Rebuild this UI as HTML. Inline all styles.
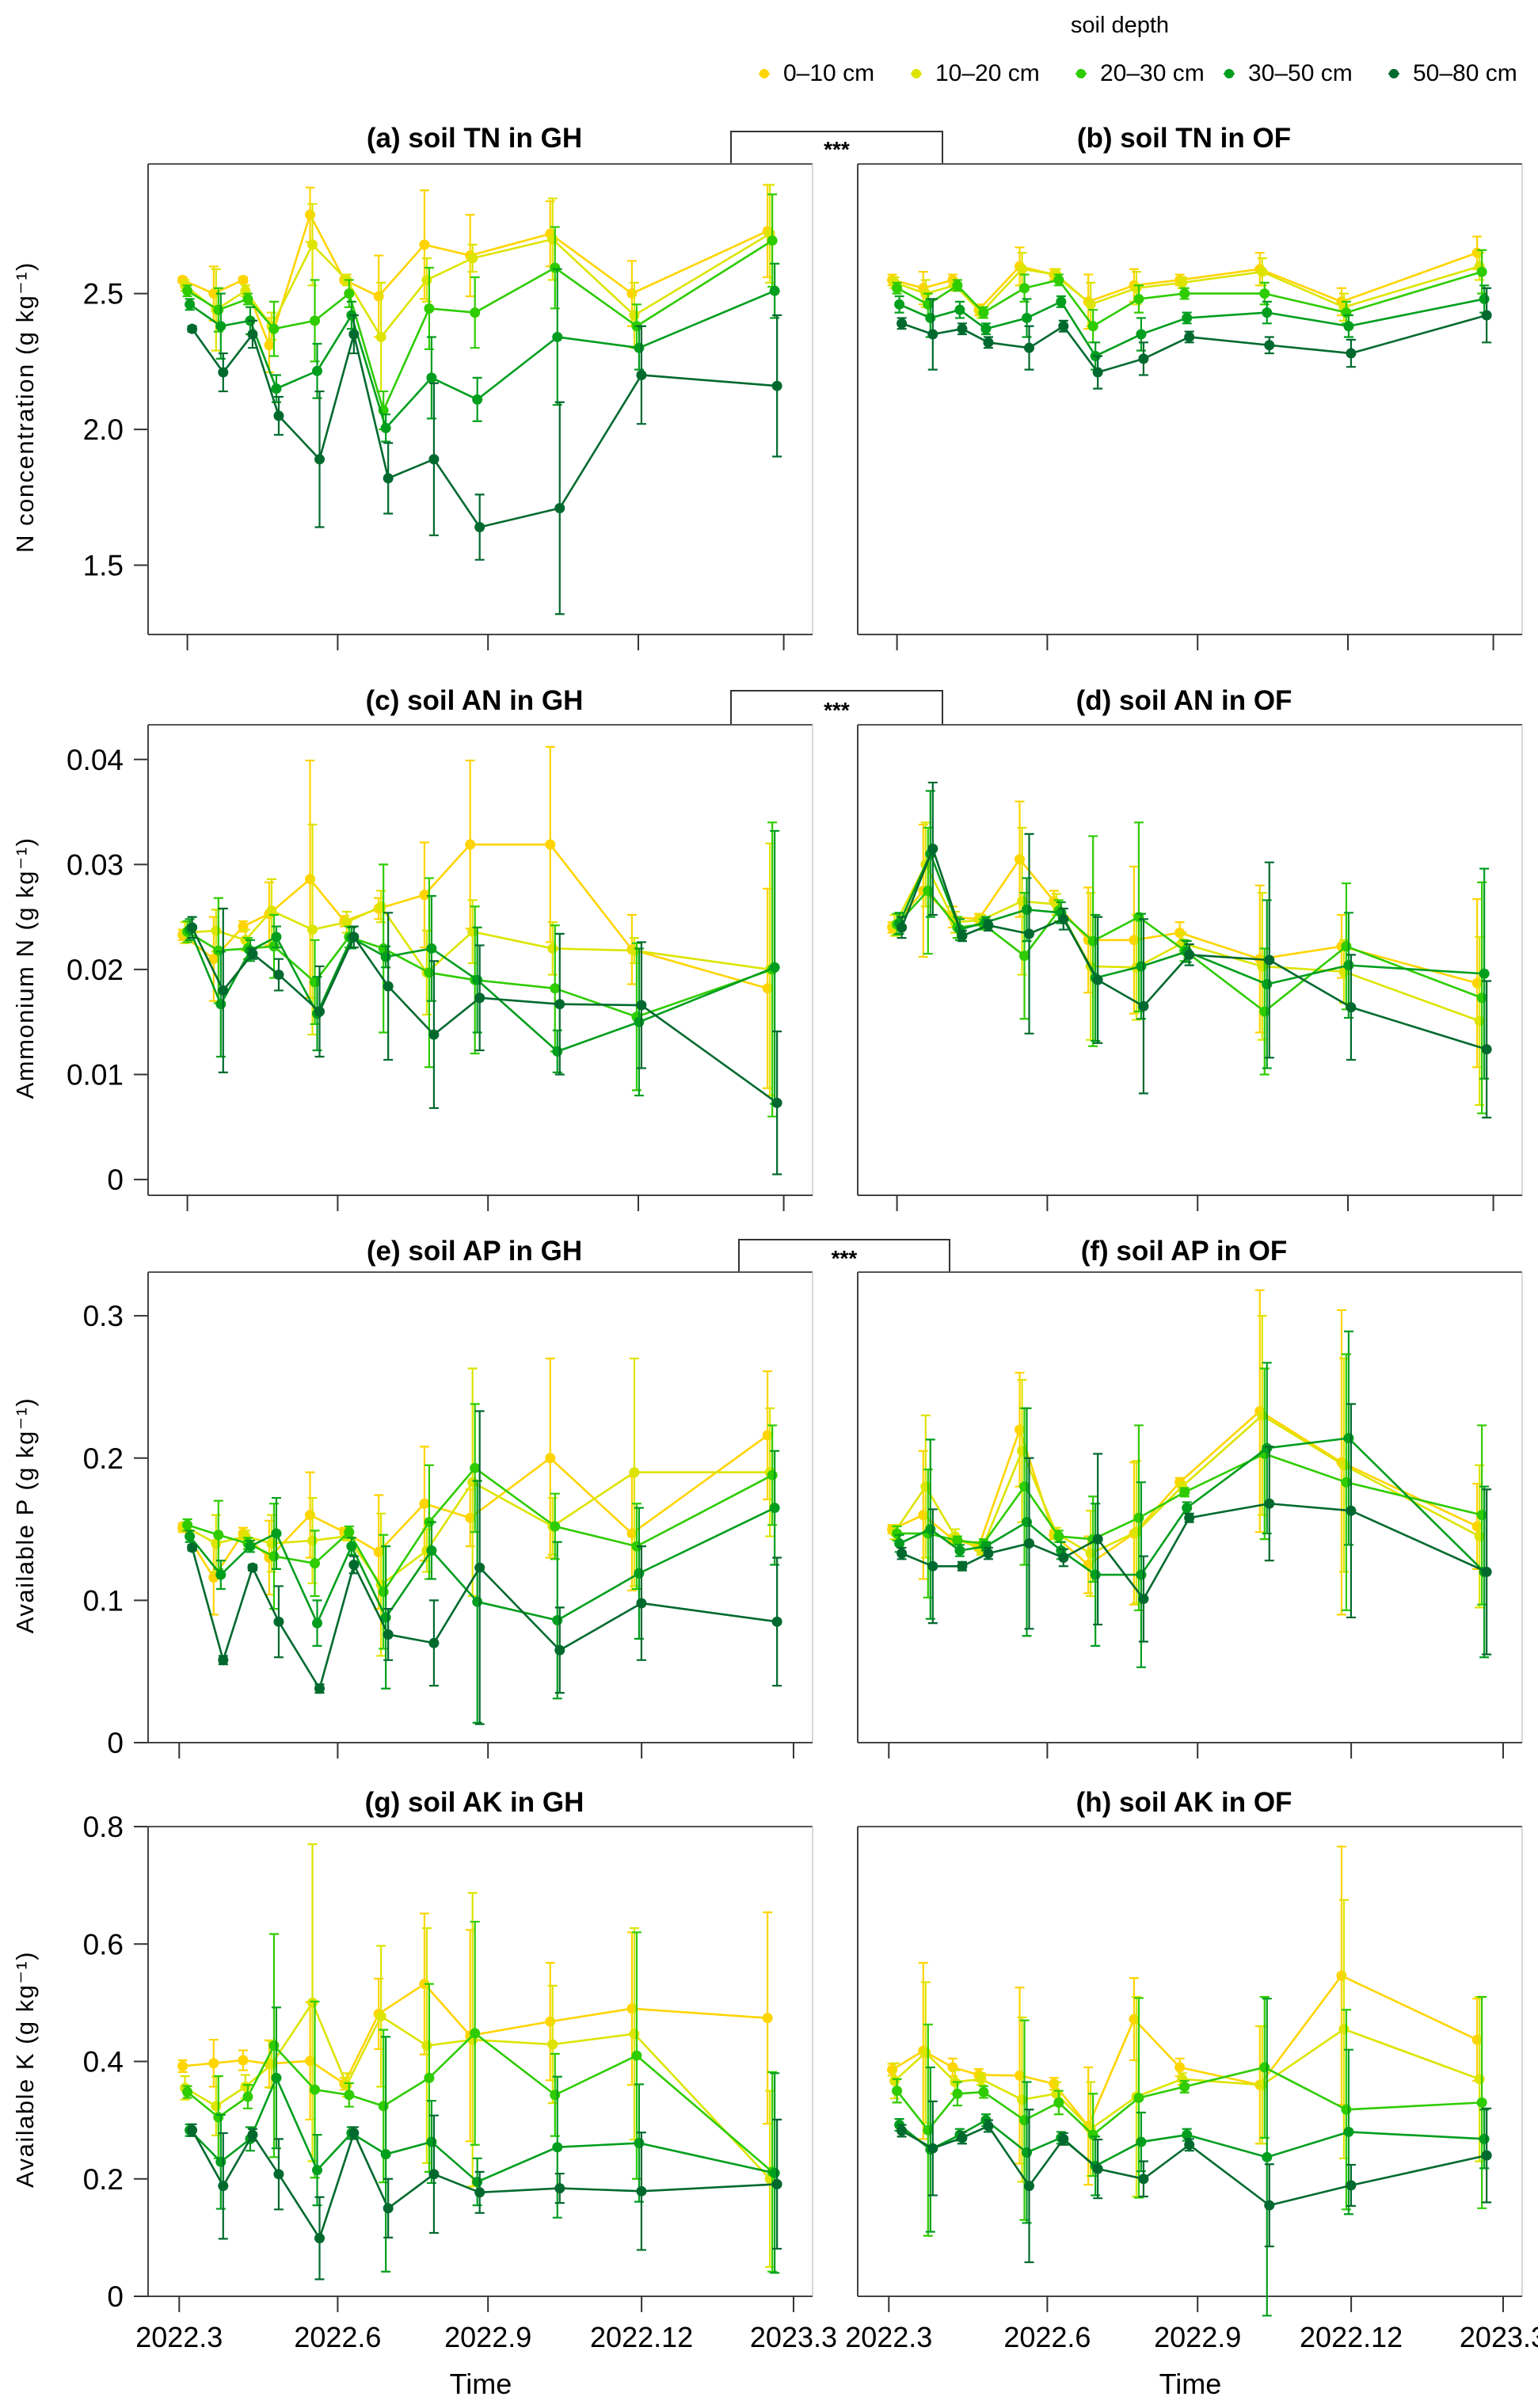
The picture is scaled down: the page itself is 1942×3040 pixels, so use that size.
<!DOCTYPE html>
<html><head><meta charset="utf-8"><style>
html,body{margin:0;padding:0;background:#fff;}
svg{display:block;font-family:"Liberation Sans",Arial,sans-serif;}
</style></head><body>
<svg id="chart" width="1942" height="3040" viewBox="0 0 1942 3040" xmlns="http://www.w3.org/2000/svg">
<g id="legend">
<text x="1414" y="41" font-size="29" text-anchor="middle">soil depth</text>
</g>
</svg>
<script>
// ---- data ----
const depthLabels = ["0–10 cm","10–20 cm","20–30 cm","30–50 cm","50–80 cm"];
const depthColors = ["#FFD400","#DDE400","#2ECC00","#009E1E","#006A2E"];
const sampleDays = [0,19,37,53,78,99,120,148,176,225,275,358];
const tickLabels = ["2022.3","2022.6","2022.9","2022.12","2023.3"];

// (a) TN GH
const tnGH = [[2.55,2.50,2.55,2.31,2.79,2.55,2.49,2.68,2.64,2.72,2.50,2.73],
[2.53,2.44,2.51,2.38,2.68,2.55,2.34,2.55,2.63,2.70,2.42,2.72],
[2.51,2.44,2.48,2.37,2.40,2.50,2.07,2.445,2.43,2.595,2.38,2.695],
[2.46,2.38,2.40,2.15,2.215,2.42,2.005,2.19,2.11,2.34,2.30,2.51],
[2.37,2.21,2.35,2.05,1.89,2.35,1.82,1.89,1.64,1.71,2.20,2.16]];
const tnGHerr = [[.01,.1,.01,.1,.1,.01,.15,.2,.15,.12,.12,.17],[.02,.15,.02,.05,.15,.02,.2,.08,.05,.15,.12,.18],[.02,.08,.02,.1,.15,.05,.07,.15,.13,.15,.08,.17],[.02,.12,.05,.05,.1,.05,.05,.15,.08,.25,.08,.1],[.01,.07,.05,.07,.25,.07,.13,.28,.12,.39,.18,.26]];
// (b) TN OF
const tnOF = [[2.55,2.52,2.55,2.44,2.60,2.57,2.47,2.53,2.55,2.59,2.47,2.65],
[2.54,2.50,2.53,2.43,2.59,2.57,2.46,2.52,2.54,2.58,2.45,2.60],
[2.52,2.46,2.53,2.43,2.52,2.55,2.38,2.48,2.50,2.50,2.43,2.58],
[2.46,2.41,2.44,2.37,2.41,2.47,2.27,2.35,2.41,2.43,2.38,2.48],
[2.39,2.35,2.37,2.32,2.30,2.38,2.21,2.26,2.34,2.31,2.28,2.42]];
const tnOFerr = [[.02,.06,.02,.02,.07,.02,.1,.06,.02,.06,.05,.06],[.02,.05,.02,.02,.06,.02,.08,.06,.02,.05,.05,.05],[.02,.04,.02,.02,.05,.02,.06,.05,.02,.04,.04,.08],[.03,.07,.03,.02,.07,.02,.05,.06,.02,.04,.04,.05],[.02,.13,.02,.02,.08,.02,.06,.06,.02,.03,.05,.1]];
// (c) AN GH
const anGH = [[.0233,.0210,.0241,.0253,.0286,.0246,.0258,.0271,.0319,.0319,.0219,.0182],
[.0235,.0237,.0228,.0256,.0238,.0245,.0260,.0197,.0236,.0220,.0218,.0200],
[.0236,.0218,.0220,.0222,.0188,.0231,.0220,.0197,.0190,.0182,.0155,.0200],
[.0238,.0167,.0218,.0231,.0158,.0230,.0212,.0220,.0190,.0122,.0150,.0202],
[.0240,.0180,.0215,.0195,.0160,.0231,.0184,.0138,.0173,.0167,.0166,.0073]];
const anGHerr = [[.0005,.004,.0005,.003,.0113,.0005,.001,.005,.008,.0093,.0033,.0095],[.001,.002,.001,.003,.01,.001,.0015,.004,.003,.0025,.0012,.012],[.001,.005,.001,.003,.004,.001,.008,.009,.007,.006,.007,.014],[.001,.005,.001,.001,.0035,.001,.001,.005,.005,.002,.007,.013],[.001,.0078,.0005,.0015,.0043,.001,.007,.007,.005,.0067,.006,.0068]];
// (d) AN OF
const anOF = [[.0240,.0275,.0250,.0248,.0305,.0265,.0228,.0228,.0235,.0210,.0222,.0187],
[.0242,.0300,.0245,.0247,.0265,.0262,.0203,.0202,.0225,.0203,.0198,.0151],
[.0243,.0275,.0240,.0243,.0213,.0256,.0227,.0250,.0218,.0160,.0222,.0173],
[.0244,.0310,.0238,.0245,.0257,.0254,.0192,.0203,.0217,.0186,.0204,.0196],
[.0240,.0315,.0232,.0242,.0234,.0248,.0190,.0165,.0214,.0209,.0164,.0124]];
const anOFerr = [[.0005,.0063,.001,.0005,.0055,.001,.005,.007,.001,.007,.003,.008],[.001,.004,.001,.0005,.007,.001,.007,.005,.001,.007,.003,.008],[.001,.006,.001,.0005,.006,.001,.01,.009,.001,.006,.006,.011],[.001,.006,.001,.0005,.003,.001,.006,.005,.001,.008,.005,.01],[.001,.0063,.0005,.0005,.0095,.001,.006,.0083,.001,.0093,.005,.0065]];
// (e) AP GH
const apGH = [[.151,.116,.147,.130,.160,.148,.134,.168,.158,.200,.147,.216],
[.152,.140,.145,.140,.142,.145,.111,.135,.183,.152,.190,.190],
[.153,.146,.140,.131,.126,.148,.106,.155,.193,.152,.138,.188],
[.145,.118,.138,.147,.084,.138,.088,.135,.099,.086,.119,.165],
[.137,.058,.123,.085,.038,.125,.076,.070,.123,.065,.098,.085]];
const apGHerr = [[.003,.026,.004,.026,.03,.003,.04,.04,.02,.07,.04,.045],[.003,.02,.004,.02,.03,.003,.05,.015,.08,.02,.08,.045],[.004,.024,.004,.037,.023,.004,.04,.04,.045,.023,.03,.035],[.004,.01,.004,.025,.016,.006,.05,.02,.085,.055,.046,.04],[.002,.003,.002,.025,.003,.006,.018,.03,.11,.03,.04,.045]];
// (f) AP OF
const apOF = [[.150,.160,.143,.138,.220,.146,.125,.147,.183,.233,.197,.152],
[.148,.180,.145,.135,.205,.147,.133,.148,.180,.230,.195,.145],
[.147,.147,.142,.140,.180,.145,.143,.158,.176,.203,.183,.160],
[.140,.150,.135,.138,.155,.135,.118,.118,.165,.207,.214,.120],
[.133,.124,.124,.133,.140,.130,.143,.101,.158,.168,.163,.120]];
const apOFerr = [[.003,.045,.003,.003,.04,.003,.02,.05,.003,.085,.107,.03],[.005,.05,.005,.003,.05,.004,.03,.05,.003,.07,.075,.05],[.005,.045,.003,.003,.055,.004,.03,.065,.003,.06,.09,.063],[.006,.063,.004,.003,.08,.006,.05,.065,.004,.06,.075,.06],[.004,.04,.003,.004,.06,.006,.06,.03,.003,.04,.075,.058]];
// (g) AK GH
const akGH = [[.392,.397,.402,.396,.401,.362,.481,.532,.444,.468,.490,.474],
[.355,.324,.357,.395,.500,.360,.477,.427,.437,.429,.447,.200],
[.348,.305,.340,.427,.352,.343,.324,.372,.448,.343,.410,.212],
[.283,.229,.268,.372,.215,.278,.242,.263,.195,.254,.261,.210],
[.283,.188,.275,.208,.099,.278,.150,.208,.177,.184,.179,.191]];
const akGHerr = [[.01,.04,.017,.04,.1,.01,.06,.12,.18,.1,.13,.18],[.02,.05,.02,.04,.27,.02,.12,.2,.25,.1,.18,.15],[.01,.07,.02,.19,.15,.02,.13,.16,.19,.07,.21,.17],[.01,.08,.02,.12,.06,.01,.2,.07,.04,.12,.1,.17],[.01,.09,.01,.06,.07,.01,.05,.1,.035,.025,.1,.11]];
// (h) AK OF
const akOF = [[.386,.418,.390,.377,.376,.362,.290,.472,.390,.360,.546,.437],
[.367,.415,.365,.370,.335,.345,.285,.340,.370,.360,.455,.370],
[.350,.283,.345,.348,.300,.330,.275,.338,.357,.390,.318,.330],
[.292,.250,.275,.300,.245,.270,.222,.263,.275,.237,.280,.268],
[.282,.252,.270,.290,.188,.268,.217,.200,.258,.155,.189,.240]];
const akOFerr = [[.01,.15,.015,.01,.15,.01,.1,.07,.015,.1,.22,.07],[.03,.12,.02,.01,.14,.02,.08,.17,.01,.1,.22,.14],[.02,.18,.02,.01,.17,.02,.07,.17,.01,.12,.17,.18],[.01,.14,.01,.01,.12,.01,.05,.05,.01,.27,.14,.05],[.01,.08,.01,.01,.13,.01,.05,.03,.01,.07,.035,.08]];

const yTicksTN = [1.5,2.0,2.5], yTickLabTN = ["1.5","2.0","2.5"];
const yTicksAN = [0,.01,.02,.03,.04], yTickLabAN = ["0","0.01","0.02","0.03","0.04"];
const yTicksAP = [0,.1,.2,.3], yTickLabAP = ["0","0.1","0.2","0.3"];
const yTicksAK = [0,.2,.4,.6,.8], yTickLabAK = ["0","0.2","0.4","0.6","0.8"];

// ---- layout ----
const NS = "http://www.w3.org/2000/svg";
const svg = document.getElementById("chart");
function mk(tag, attrs, parent){ const e=document.createElementNS(NS,tag); for(const k in attrs) e.setAttribute(k,attrs[k]); (parent||svg).appendChild(e); return e; }

const rows = [
 {top:207,bot:801,min:1.245,max:2.977,ticks:yTicksTN,lab:yTickLabTN,title:"N concentration (g kg⁻¹)",tickDays:[0,92,184,276,365],sets:[[tnGH,tnGHerr,"(a) soil TN in GH"],[tnOF,tnOFerr,"(b) soil TN in OF"]],br:[923,1190,166,184],key:"tn"},
 {top:915,bot:1509,min:-0.0015,max:0.0433,ticks:yTicksAN,lab:yTickLabAN,title:"Ammonium N (g kg⁻¹)",tickDays:[0,92,184,276,365],sets:[[anGH,anGHerr,"(c) soil AN in GH"],[anOF,anOFerr,"(d) soil AN in OF"]],br:[923,1190,872,892],key:"an"},
 {top:1606,bot:2200,min:0,max:0.3307,ticks:yTicksAP,lab:yTickLabAP,title:"Available P (g kg⁻¹)",tickDays:[-5,92,184,278,371],sets:[[apGH,apGHerr,"(e) soil AP in GH"],[apOF,apOFerr,"(f) soil AP in OF"]],br:[933,1199,1565,1584],key:"ap"},
 {top:2306,bot:2899,min:0,max:0.8,ticks:yTicksAK,lab:yTickLabAK,title:"Available K (g kg⁻¹)",tickDays:[-5,92,184,278,371],sets:[[akGH,akGHerr,"(g) soil AK in GH"],[akOF,akOFerr,"(h) soil AK in OF"]],br:null,key:"ak"}
];
const panelLefts = [187,1083], panelW = 839;
const dodge = [-6,-3,0,3,6];

rows.forEach((r,ri)=>{
  const ys = v => r.bot - (v - r.min)/(r.max - r.min)*(r.bot - r.top);
  const yt = mk("text",{x:0,y:0,"font-size":31,"text-anchor":"middle",transform:`translate(42,${(r.top+r.bot)/2+10}) rotate(-90)`,"letter-spacing":"1.5"});
  yt.textContent = r.title;
  
  
  r.ticks.forEach((t,i)=>{
    const y = ys(t);
    mk("line",{x1:169,x2:187,y1:y,y2:y,stroke:"#333","stroke-width":2});
    const tl = mk("text",{x:156,y:y+13,"font-size":37,"text-anchor":"end"});
    tl.textContent = r.lab[i];
    
    
  });
  if(r.br){
    mk("path",{d:`M${r.br[0]},${r.top} V${r.br[2]} H${r.br[1]} V${r.top}`,fill:"none",stroke:"#333","stroke-width":2});
    const st = mk("text",{x:(r.br[0]+r.br[1])/2,y:r.br[3]+14,"font-size":28,"font-weight":"bold","text-anchor":"middle"});
    st.textContent = "***";
    
    
  }
  r.sets.forEach((s,pi)=>{
    const L = panelLefts[pi];
    const xs = d => L + 49.6 + d*2.063;
    const g = mk("g",{});
    
    
    mk("line",{x1:L,x2:L+panelW,y1:r.top,y2:r.top,stroke:"#555","stroke-width":2},g);
    mk("line",{x1:L,x2:L,y1:r.top,y2:r.bot,stroke:"#444","stroke-width":2},g);
    mk("line",{x1:L+panelW,x2:L+panelW,y1:r.top,y2:r.bot,stroke:"#ccc","stroke-width":1.5},g);
    mk("line",{x1:L,x2:L+panelW,y1:r.bot,y2:r.bot,stroke:"#444","stroke-width":2},g);
    r.tickDays.forEach((d,i)=>{
      const x = xs(d);
      mk("line",{x1:x,x2:x,y1:r.bot,y2:r.bot+20,stroke:"#333","stroke-width":2},g);
      if(ri===3){
        const xl = mk("text",{x:x,y:2963,"font-size":36,"text-anchor":"middle"},g);
        xl.textContent = tickLabels[i];
        
        
      }
    });
    if(ri===3){
      const tt = mk("text",{x:L+420,y:3022,"font-size":36,"text-anchor":"middle"},g);
      tt.textContent = "Time";
      
      
    }
    const ti = mk("text",{x:L+412,y:r.top - (ri===3?19:ri===0?21:ri===1?19:15),"font-size":35,"font-weight":"bold","text-anchor":"middle"},g);
    ti.textContent = s[2];
    
    
    const vals = s[0], errs = s[1];
    vals.forEach((ser,si)=>{
      const col = depthColors[si];
      const sg = mk("g",{},g);
      
      
      const pts = ser.map((v,i)=>[xs(sampleDays[i])+dodge[si], ys(v)]);
      const line = mk("polyline",{points:pts.map(p=>p.join(",")).join(" "),fill:"none",stroke:col,"stroke-width":2.6,"stroke-linejoin":"round"},sg);
      
      
      ser.forEach((v,i)=>{
        const x = pts[i][0], e = errs[si][i];
        const y1 = ys(v+e), y2 = ys(v-e);
        const eb = mk("path",{d:`M${x},${y1} V${y2} M${x-6},${y1} H${x+6} M${x-6},${y2} H${x+6}`,stroke:col,"stroke-width":2.2,fill:"none"},sg);
        
        
        const c = mk("circle",{cx:x,cy:pts[i][1],r:6.5,fill:col},sg);
        
        
      });
    });
  });
});

const lg = document.getElementById("legend");
const legX = [965,1157,1365,1552,1760];
depthLabels.forEach((lab,i)=>{
  const eg = mk("g",{},lg);
  
  
  mk("line",{x1:legX[i]-7,x2:legX[i]+7,y1:93,y2:93,stroke:depthColors[i],"stroke-width":2},eg);
  mk("circle",{cx:legX[i],cy:93,r:6,fill:depthColors[i]},eg);
  const t = mk("text",{x:legX[i]+24,y:102,"font-size":30},eg);
  t.textContent = lab;
});
</script>
</body></html>
